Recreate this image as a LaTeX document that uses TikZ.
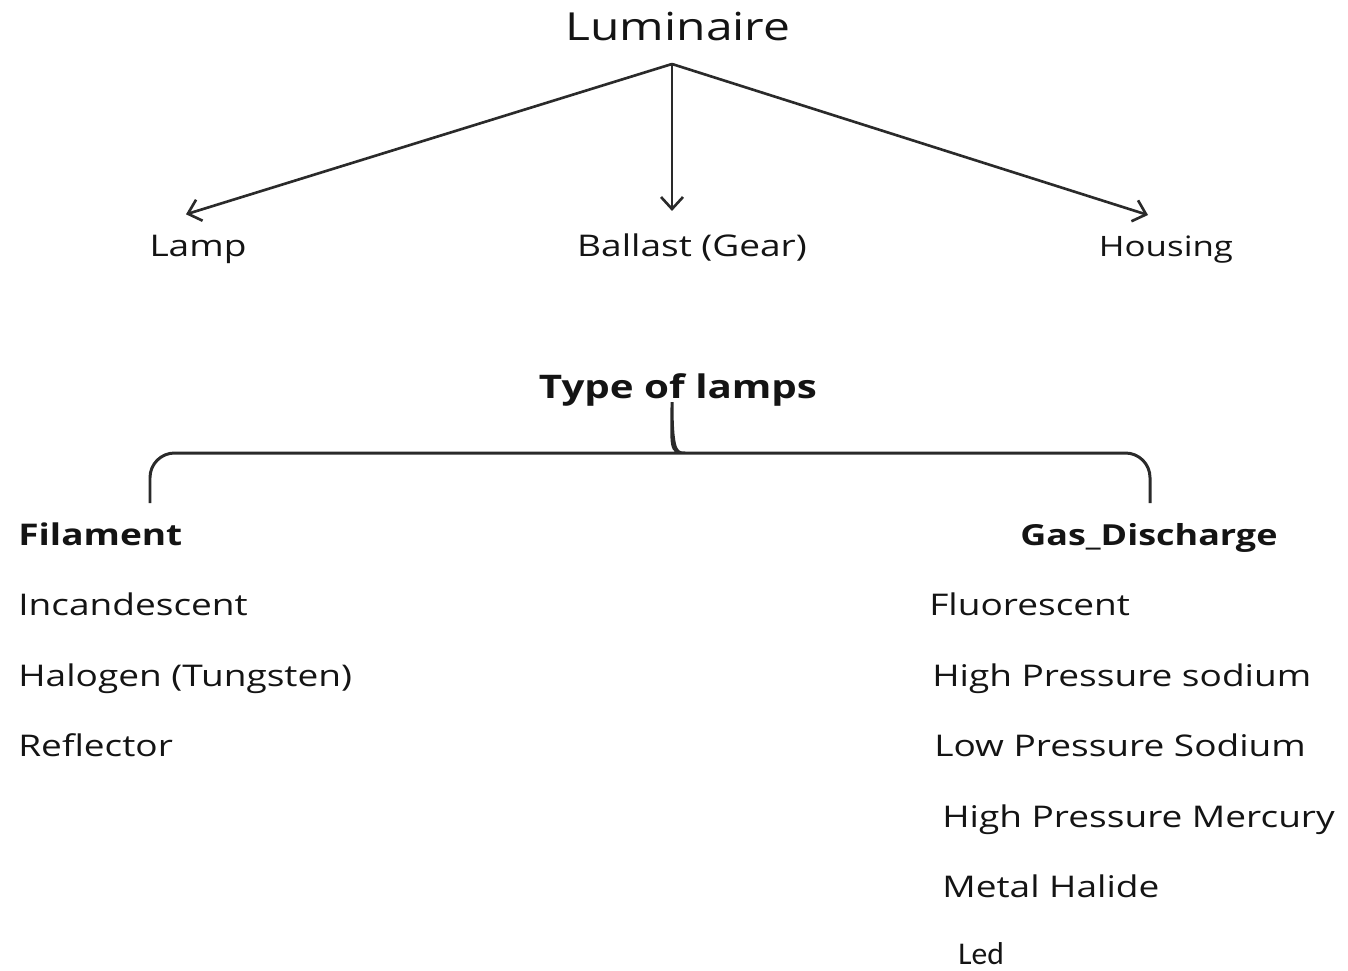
\documentclass[tikz,border=0pt]{standalone}
\usepackage{fontspec}
\setmainfont{Open Sans}[FakeStretch=1.24]
\newfontfamily\ledfont{Carlito}
\usetikzlibrary{arrows.meta, positioning, calc}
\definecolor{InkGray}{HTML}{2A2A2A}
\definecolor{TextBlack}{HTML}{141414}
\tikzset{
  title/.style={font=\fontsize{22}{26}\selectfont, text=TextBlack, anchor=base, inner sep=0pt},
  part/.style={font=\fontsize{17}{20}\selectfont, text=TextBlack, anchor=base, inner sep=0pt},
  heading/.style={font=\fontsize{17}{20}\selectfont\bfseries, text=TextBlack, anchor=base west, inner sep=0pt},
  item/.style={font=\fontsize{17}{20}\selectfont, text=TextBlack, anchor=base west, inner sep=0pt},
  arrow/.style={-{Straight Barb[length=2.4mm, width=4.4mm]}, line width=1.5pt, draw=InkGray},
  brace/.style={line width=1.7pt, draw=InkGray}
}

\begin{document}
\begin{tikzpicture}[x=0.02cm, y=-0.02cm]
\useasboundingbox (0,0) rectangle (1348,970);

% luminaire and its three parts
\node[title] (lum) at (678,40) {Luminaire};
\coordinate (root) at (672,64);
\node[part] (lamp) at (198,256) {Lamp};
\node[part] (ballast) at (692,256) {Ballast (Gear)};
\node[part, font=\fontsize{16}{19}\selectfont] (housing) at (1166,256) {Housing};
\draw[arrow] (root) -- ([shift={(-12,-20)}]lamp.north);
\draw[arrow] (root) -- ([shift={(-20,-22)}]ballast.north);
\draw[arrow] (root) -- ([shift={(-18,-20)}]housing.north);

% lamp types
\node[part, font=\fontsize{18.5}{22}\selectfont\bfseries] (types) at (678,398) {Type of lamps};
\node[heading] (fil) at (18,545) {Filament};
\node[heading, font=\fontsize{16.5}{20}\selectfont\bfseries] (gas) at (1020,545) {Gas\_Discharge};
\coordinate (braceL) at (150,503);
\coordinate (braceR) at (1150,503);
\coordinate (braceTip) at (672,402);
\draw[brace] (braceL) [rounded corners=14] -- (150,453) -- (661,453) [sharp corners]
  .. controls (669,453) and (672,446) .. (braceTip)
  .. controls (672,446) and (675,453) .. (683,453) [rounded corners=14]
  -- (1150,453) -- (braceR);

% filament lamps
\node[item] (inc) at (18,615) {Incandescent};
\node[item] (hal) at (18,686) {Halogen (Tungsten)};
\node[item] (ref) at (18,756) {Reflector};

% gas discharge lamps
\node[item] (flu) at (929,615) {Fluorescent};
\node[item] (hps) at (932,686) {High Pressure sodium};
\node[item] (lps) at (934,756) {Low Pressure Sodium};
\node[item] (hpm) at (942,827) {High Pressure Mercury};
\node[item] (mh) at (942,897) {Metal Halide};
\node[item, font=\fontsize{18}{21}\ledfont, text depth=0pt] (led) at (958,964) {Led};
\end{tikzpicture}
\end{document}
